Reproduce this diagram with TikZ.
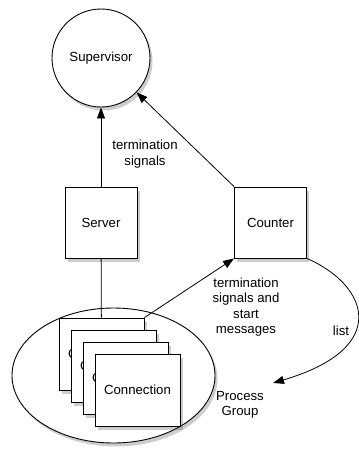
\documentclass[tikz,border=0pt]{standalone}
\usepackage{fontspec}
\setmainfont{Liberation Sans}
\definecolor{dgLine}{HTML}{000000}
\definecolor{dgShadow}{HTML}{5A5A5A}
\usetikzlibrary{arrows.meta,shapes.geometric,shadows}

\tikzset{
  shade box/.style={draw=dgLine, line width=0.9pt, fill=white,
    drop shadow={shadow xshift=2.5pt, shadow yshift=-3.5pt, opacity=0.3, fill=dgShadow}},
  procbox/.style={shade box, rectangle, minimum width=72pt, minimum height=71pt},
  connbox/.style={shade box, rectangle, minimum width=85pt, minimum height=72pt},
  msg/.style={align=center},
  arr/.style={line width=0.8pt, -{Triangle[length=11pt,width=8pt]}},
  link/.style={line width=0.8pt}
}

\begin{document}
\begin{tikzpicture}[x=1pt, y=-1pt, font=\fontsize{13.2}{15.5}\selectfont, inner sep=0pt]
  \useasboundingbox (0,0) rectangle (359,453);

  % processes
  \node[shade box, circle, minimum size=98pt] (sup) at (101,58) {Supervisor};
  \node[procbox] (server) at (101,222.5) {Server};
  \node[procbox] (counter) at (270.5,222.5) {Counter};

  % process group with its connections
  \node[shade box, ellipse, minimum width=203pt, minimum height=135pt] (group) at (113.5,375.5) {};
  \foreach \i in {1,...,4}
    \node[connbox] (conn\i) at ({89.5+12*\i},{342+12*\i}) {Connection};

  % labels
  \node[msg] (lblterm) at (145,154) {termination\\signals};
  \node[msg] (lblstart) at (246,307) {termination\\signals and\\start\\messages};
  \node[msg] (lbllist) at (341,331) {list};
  \node[msg] (lblgroup) at (240,405) {Process\\Group};
  \coordinate (pgtip) at (273,383);

  % connectors
  \draw[arr] (server) -- (sup);
  \draw[arr] (counter.north west) -- (sup);
  \draw[link] (server) -- (conn1);
  \draw[arr] (conn1.north east) -- (counter.south west);
  \draw[arr] (counter.south east) .. controls (368,285) and (392,348) .. (pgtip);
\end{tikzpicture}
\end{document}
